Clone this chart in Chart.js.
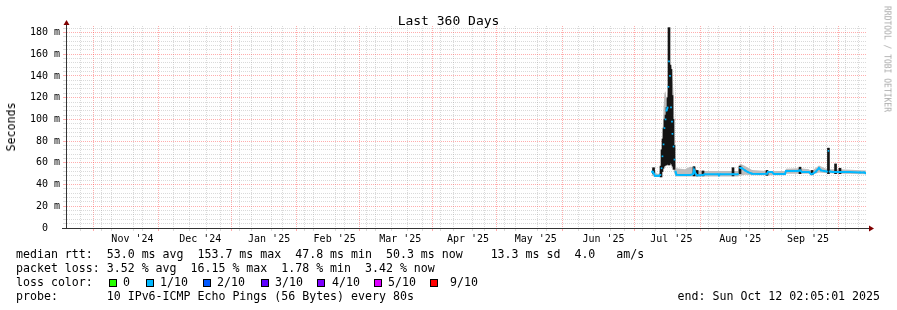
<!DOCTYPE html>
<html>
<head>
<meta charset="utf-8">
<title>Last 360 Days</title>
<script src="https://cdn.jsdelivr.net/npm/chart.js@4.4.1/dist/chart.umd.min.js"></script>
<style>
body { margin: 0; background: #fff; }
#graph { position: relative; width: 897px; height: 310px; font-family: "DejaVu Sans Mono", monospace; color: #000; }
#graph canvas { position: absolute; left: 0; top: 0; }
.txt { position: absolute; white-space: pre; font-size: 11.6px; line-height: 14px; }
.title { left: 0; width: 897px; text-align: center; top: 13px; font-size: 13px; line-height: 15px; }
.ylab { left: 11px; top: 127px; transform: translate(-50%, -50%) rotate(-90deg); }
.wm { left: 887px; top: 59px; font-size: 8px; line-height: 9px; color: #aaa; transform: translate(-50%, -50%) rotate(90deg); }
.sq { position: absolute; top: 279px; width: 6px; height: 6px; border: 1px solid #000; }
</style>
</head>
<body>
<div id="graph">
  <canvas id="smoke" width="897" height="310"></canvas>
  <div class="txt title">Last 360 Days</div>
  <div class="txt ylab">Seconds</div>
  <div class="txt wm">RRDTOOL / TOBI OETIKER</div>
  <div class="txt" style="left:16px;top:247px">median rtt:  53.0 ms avg  153.7 ms max  47.8 ms min  50.3 ms now    13.3 ms sd  4.0   am/s</div>
  <div class="txt" style="left:16px;top:261px">packet loss: 3.52 % avg  16.15 % max  1.78 % min  3.42 % now</div>
  <div class="txt" style="left:16px;top:275px">loss color:</div>
  <div id="losscolors"></div>
  <div class="txt" style="left:16px;top:289px">probe:       10 IPv6-ICMP Echo Pings (56 Bytes) every 80s</div>
  <div class="txt" style="right:17px;top:289px">end: Sun Oct 12 02:05:01 2025</div>
</div>
<script>
// x values are days since the start of the window (Oct 17 2024 02:05)
var monthStarts = [14.9, 44.9, 75.9, 106.9, 134.9, 165.9, 195.9, 226.9, 256.9, 287.9, 318.9, 348.9];
var monthLabels = ["Nov '24", "Dec '24", "Jan '25", "Feb '25", "Mar '25", "Apr '25", "May '25", "Jun '25", "Jul '25", "Aug '25", "Sep '25"];
var firstSunday = 2.9;

// median rtt (ms)
var medianDays = [263.7, 264.15, 264.6, 265.05, 265.95, 266.85, 267.5, 268.0, 268.4, 268.9, 269.3, 269.8, 270.2, 270.7, 271.1, 271.35, 271.8, 272.25, 272.7, 272.9, 273.4, 273.8, 274.3, 274.7,
    276.3, 280.8, 282.15, 282.6, 283.3, 284.0, 285.3, 286.65, 287.55, 293.4, 293.85, 294.3, 300.15, 302.4, 303.3, 304.2, 305.55, 306.9, 308.7, 312.3,
    315.45, 315.9, 317.7, 318.6, 323.55, 324.0, 329.4, 330.3, 331.2, 334.35, 335.25, 336.15, 337.5, 338.85, 339.75, 341.1, 342.45, 343.1, 343.6,
    345.15, 348.3, 352.8, 357.3, 359.1, 360];
var medianRtt = [52, 52, 50, 48, 48, 48, 49, 55, 66, 77, 92, 100, 108, 111, 130, 153.5, 140, 111, 98, 86.7, 75, 63, 52, 49,
    48.9, 48.9, 49.5, 53.5, 50, 48.5, 48.5, 49, 49.5, 49.5, 48.5, 49.5, 49.5, 49.5, 55.5, 55, 53, 51.5, 50, 49.8,
    50, 51.5, 51.5, 49.8, 49.8, 52.5, 52.5, 53, 51.5, 51.5, 49.5, 50, 52, 55.2, 53, 52.5, 52, 71, 52,
    51.5, 51.5, 51.5, 51.2, 51.2, 50.3];

// smoke (spread of the pings, ms)
var smokeDays = [263.7, 265.05, 265.95, 266.85, 267.5, 268.0, 268.4, 268.9, 269.3, 269.8, 270.2, 270.7, 271.1, 271.6, 272.0, 272.5, 272.9, 273.4, 273.8, 274.3, 274.7,
    278.55, 280.8, 283.05, 284.0, 287.55, 294.3, 302.4, 303.3, 305.55, 308.7, 315.45, 323.55, 324.0, 330.3, 334.35, 335.25, 338.85, 342.45, 343.1, 343.6, 348.3, 360];
var smokeLow = [48, 47, 47, 47, 47, 50, 54, 56, 57, 57, 58, 58, 58, 58, 58, 58, 56, 54, 50, 47.5, 47.5,
    47.5, 47.5, 47.5, 47.5, 47.5, 47.5, 47.5, 48, 49, 48.5, 48.5, 48.5, 50, 50, 50, 48.5, 51, 50.5, 50.5, 50.5, 50, 49.5];
var smokeHigh = [55, 52, 50, 50, 52, 62, 85, 110, 124, 126, 118, 125, 140, 152, 150, 148, 138, 125, 92, 60, 55,
    54, 56.5, 56, 53, 52.5, 52.5, 52.5, 59.5, 57, 53.5, 52.5, 52.5, 54.5, 55, 54, 52, 57.5, 54, 76, 54, 54, 53];

// dark smoke spikes (ms)
var spikeDays = [264.4, 267.75, 268.2, 268.65, 269.1, 269.55, 270.0, 270.45, 270.9, 271.35, 271.8, 272.25, 272.7, 273.15, 273.6,
    282.6, 284.0, 286.65, 300.15, 303.3, 315.45, 330.3, 335.7, 343.1, 346.3, 348.3];
var spikeLow = [50, 47, 52, 55, 57, 58, 58, 59, 59, 58, 60, 60, 59, 57, 54,
    48, 48, 48, 48, 50, 48.5, 50, 49, 50, 50, 50];
var spikeHigh = [55.5, 57, 72, 82, 92, 100, 104, 111, 120, 184.5, 150, 146, 122, 100, 76,
    56.5, 53, 52.5, 55.5, 57, 53, 56, 53, 73.5, 59, 55];

// loss colour legend
var lossNames = ['0', '1/10', '2/10', '3/10', '4/10', '5/10', '9/10'];
var lossColors = ['#26ff00', '#00b8ff', '#0059ff', '#5e00ff', '#7e00ff', '#dd00ff', '#ff0000'];

//Legend squares
var squareX = [109, 146, 203, 261, 317, 374, 430];
var nameX = [123, 160, 217, 275, 332, 388, 450];
var box = document.getElementById('losscolors');
lossNames.forEach(function (name, i) {
    var sq = document.createElement('div');
    sq.className = 'sq';
    sq.style.left = squareX[i] + 'px';
    sq.style.background = lossColors[i];
    box.appendChild(sq);
    var t = document.createElement('div');
    t.className = 'txt';
    t.style.left = nameX[i] + 'px';
    t.style.top = '275px';
    t.textContent = name;
    box.appendChild(t);
});

//Ticks
var labelDays = monthLabels.map(function (l, i) { return (monthStarts[i] + monthStarts[i + 1]) / 2; });
var weekDays = [];
for (var d = firstSunday; d < 360; d += 7) {
    var w = +d.toFixed(2);
    if (monthStarts.indexOf(w) < 0) weekDays.push(w);
}
var xTicks = weekDays.concat(monthStarts, labelDays).sort(function (a, b) { return a - b; });
var yTicks = [];
for (var v = 0; v <= 184; v += 4) yTicks.push(v);

var MGRID = 'rgba(255, 40, 40, 0.38)';
var GRID = 'rgba(140, 140, 140, 0.32)';
var NONE = 'rgba(0,0,0,0)';

function xGrid(ctx) {
    if (!ctx.tick) return GRID;
    var val = ctx.tick.value;
    if (labelDays.indexOf(val) >= 0) return NONE;
    return monthStarts.indexOf(val) >= 0 ? MGRID : GRID;
}
function yGrid(ctx) {
    if (!ctx.tick) return GRID;
    return ctx.tick.value % 20 === 0 ? MGRID : GRID;
}

//Axis arrows
var axisArrows = {
    id: 'axisArrows',
    afterDraw: function (chart) {
        var ctx = chart.ctx, a = chart.chartArea;
        var x = Math.round(a.left) + 0.5, y = Math.round(a.bottom) + 0.5;
        ctx.save();
        ctx.strokeStyle = '#333';
        ctx.lineWidth = 1;
        ctx.beginPath();
        ctx.moveTo(x, a.bottom);
        ctx.lineTo(x, a.top - 3);
        ctx.moveTo(a.left - 4, y);
        ctx.lineTo(a.right + 4, y);
        ctx.stroke();
        ctx.fillStyle = '#800000';
        ctx.beginPath();
        ctx.moveTo(x - 3, a.top - 1);
        ctx.lineTo(x + 3, a.top - 1);
        ctx.lineTo(x, a.top - 6);
        ctx.closePath();
        ctx.fill();
        ctx.beginPath();
        ctx.moveTo(a.right + 3, y - 3);
        ctx.lineTo(a.right + 3, y + 3);
        ctx.lineTo(a.right + 8, y);
        ctx.closePath();
        ctx.fill();
        ctx.restore();
    }
};

//chart Global
Chart.defaults.font.family = '"DejaVu Sans Mono", monospace';
Chart.defaults.font.size = 10;
Chart.defaults.color = '#000';

var ctx = document.getElementById('smoke').getContext('2d');
var smokeChart = new Chart(ctx, {
    type: 'line',
    data: {
        datasets: [
            {
                label: 'median rtt',
                data: medianDays.map(function (d, i) { return { x: d, y: medianRtt[i] }; }),
                borderColor: '#00b8ff',
                borderWidth: 2,
                pointStyle: 'rect',
                pointRadius: 1.2,
                pointBorderWidth: 0,
                pointBackgroundColor: '#00b8ff',
                segment: {
                    borderColor: function (c) { return Math.abs(c.p1.parsed.y - c.p0.parsed.y) > 4.5 ? NONE : undefined; }
                },
                order: 0
            },
            {
                type: 'bar',
                label: 'spikes',
                data: spikeDays.map(function (d, i) { return { x: d, y: [spikeLow[i], spikeHigh[i]] }; }),
                backgroundColor: '#151515',
                borderWidth: 0,
                barThickness: 2,
                order: 1
            },
            {
                label: 'smoke high',
                data: smokeDays.map(function (d, i) { return { x: d, y: smokeHigh[i] }; }),
                borderColor: NONE,
                borderWidth: 0,
                backgroundColor: '#bdbdbd',
                pointRadius: 0,
                fill: '+1',
                order: 2
            },
            {
                label: 'smoke low',
                data: smokeDays.map(function (d, i) { return { x: d, y: smokeLow[i] }; }),
                borderColor: NONE,
                borderWidth: 0,
                pointRadius: 0,
                fill: false,
                order: 3
            }
        ]
    },
    options: {
        responsive: false,
        animation: false,
        devicePixelRatio: 1,
        layout: { padding: { left: 0, right: 31, top: 26, bottom: 0 } },
        plugins: { legend: { display: false }, tooltip: { enabled: false } },
        scales: {
            x: {
                type: 'linear',
                min: 0,
                max: 360,
                offset: false,
                afterBuildTicks: function (scale) { scale.ticks = xTicks.map(function (t) { return { value: t }; }); },
                afterFit: function (scale) { scale.height = 82; },
                grid: { color: xGrid, tickColor: xGrid, tickLength: 3, lineWidth: 1 },
                border: { color: '#333', width: 1, dash: [1, 1] },
                ticks: {
                    autoSkip: false,
                    maxRotation: 0,
                    minRotation: 0,
                    padding: 2,
                    callback: function (value) {
                        var i = labelDays.indexOf(value);
                        return i < 0 ? '' : monthLabels[i];
                    }
                }
            },
            y: {
                min: 0,
                max: 186,
                afterBuildTicks: function (scale) { scale.ticks = yTicks.map(function (t) { return { value: t }; }); },
                afterFit: function (scale) { scale.width = 66; },
                grid: { color: yGrid, tickColor: yGrid, tickLength: 3, lineWidth: 1 },
                border: { color: '#333', width: 1, dash: [1, 1] },
                ticks: {
                    padding: 3,
                    autoSkip: false,
                    callback: function (value) {
                        if (value % 20 !== 0) return '';
                        return value === 0 ? '0  ' : value + ' m';
                    }
                }
            }
        }
    },
    plugins: [axisArrows]
});
</script>
</body>
</html>
